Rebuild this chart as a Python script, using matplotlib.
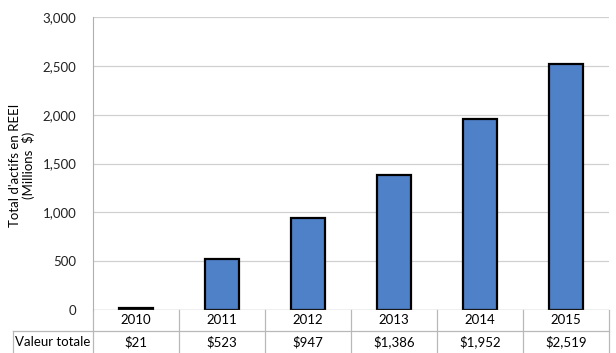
import matplotlib.pyplot as plt
import numpy as np

plt.rcParams['font.family'] = ['Lato', 'DejaVu Sans']
plt.rcParams['font.size'] = 9

# --- data ---
years = ['2010', '2011', '2012', '2013', '2014', '2015']
values = [21, 523, 947, 1386, 1952, 2519]
value_labels = ['$21', '$523', '$947', '$1,386', '$1,952', '$2,519']
row_label = 'Valeur totale'
y_ticks = [0, 500, 1000, 1500, 2000, 2500, 3000]

W, H = 616, 353
fig = plt.figure(figsize=(W / 100, H / 100), dpi=100)
ax = fig.add_axes([93 / W, (H - 310) / H, (609 - 93) / W, 293 / H])

x = np.arange(len(years))
ax.bar(x, values, width=0.4, color='#4f81c9', edgecolor='black', linewidth=1.6, zorder=3)

ax.set_xlim(-0.5, len(years) - 0.5)
ax.set_ylim(0, 3000)
ax.set_yticks(y_ticks)
ax.set_yticklabels([f'{t:,}' for t in y_ticks], fontsize=9.5, color='#222222')
ax.tick_params(axis='y', length=0, pad=12)
ax.set_xticks([])
ax.grid(axis='y', color='#d0d0d0', linewidth=0.9, zorder=0)
for s in ['top', 'right', 'bottom']:
    ax.spines[s].set_visible(False)
ax.spines['left'].set_color('#b0b0b0')
ax.axhline(0, color='#b0b0b0', lw=0.9, zorder=4)

fig.text(22 / W, 1 - 165 / H, "Total d'actifs en REEI\n(Millions  $)", rotation=90,
         ha='center', va='center', fontsize=9.5, linespacing=1.1)

# --- data table below the axis ---
line_kw = dict(color='#b8b8b8', lw=0.9, clip_on=False)
px = lambda v: v / 293.0  # pixel offset to axes fraction
r1 = -px(21)   # bottom of year row
r2 = -px(43)   # bottom of value row
tr = ax.get_xaxis_transform()
for b in np.arange(-0.5, len(years), 1.0):
    ax.plot([b, b], [0, r2], transform=tr, **line_kw)
ax.plot([-0.5, len(years) - 0.5], [r1, r1], transform=tr, **line_kw)
# left header cell
x0 = -0.5 - (93 - 13) / ((609 - 93) / len(years))
ax.plot([x0, -0.5], [r1, r1], transform=tr, **line_kw)
ax.plot([x0, x0], [r1, r2], transform=tr, **line_kw)
ax.text((x0 - 0.5) / 2, (r1 + r2) / 2, row_label, transform=tr, ha='center',
        va='center', fontsize=9.5)
for i in range(len(years)):
    ax.text(i, r1 / 2, years[i], transform=tr, ha='center', va='center', fontsize=9.5)
    ax.text(i, (r1 + r2) / 2, value_labels[i], transform=tr, ha='center',
            va='center', fontsize=9.5)

fig.savefig('out.png', dpi=100)
